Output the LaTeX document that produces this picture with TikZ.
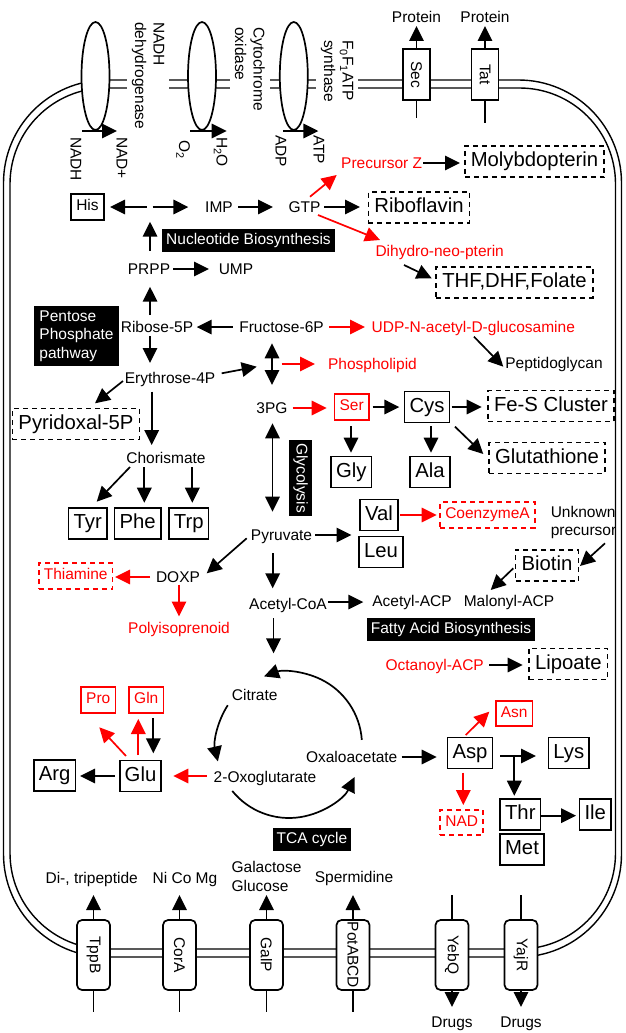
\documentclass[tikz,border=0pt]{standalone}
\usepackage{fontspec}
\setmainfont{Liberation Sans}
\usetikzlibrary{arrows.meta,shapes.geometric,calc}
\newcommand\ftsmall{\fontsize{15.5}{18.5}\selectfont}
\newcommand\ftbig{\fontsize{20.3}{24}\selectfont}
\begin{document}
\begin{tikzpicture}[x=1pt,y=-1pt,
  lbl/.style={font=\ftsmall, inner sep=0pt, text height=11pt, text depth=0pt},
  rlbl/.style={lbl, text=red},
  bx/.style={draw, line width=1.7pt, font=\ftbig, inner xsep=5pt, inner ysep=0pt, minimum height=31pt, text height=14.5pt, text depth=4.2pt},
  dbx/.style={bx, dash pattern=on 5pt off 4pt, inner xsep=6pt},
  sbx/.style={draw, line width=1.7pt, font=\ftsmall, inner xsep=5pt, inner ysep=0pt, minimum height=25.5pt, text height=11pt, text depth=3.2pt},
  rsbx/.style={sbx, draw=red, text=red},
  rdbx/.style={sbx, draw=red, text=red, dash pattern=on 5pt off 4pt},
  blkbase/.style={fill=black, text=white, font=\ftsmall},
  blk/.style={blkbase, inner xsep=4pt, inner ysep=0pt, minimum height=23pt, text height=11pt, text depth=3.2pt},
  arr/.style={line width=1.7pt, -{Triangle[length=15pt,width=14.5pt]}},
  rarr/.style={arr, red},
  darr/.style={line width=1.7pt, {Triangle[length=15pt,width=14.5pt]}-{Triangle[length=15pt,width=14.5pt]}},
  pln/.style={line width=1.7pt},
  mem/.style={line width=1.4pt},
  ell/.style={ellipse, draw, fill=white, line width=1.7pt, minimum width=28pt, minimum height=108pt, inner sep=0pt},
  secbox/.style={draw, fill=white, line width=1.7pt, rotate=-90, font=\ftsmall, minimum width=51pt, minimum height=27pt, inner sep=0pt},
  tp/.style={draw, fill=white, line width=1.7pt, rotate=-90, font=\ftsmall, rounded corners=5pt, minimum width=70pt, minimum height=33pt, inner sep=0pt},
  mlbl/.style={font=\ftsmall, rotate=-90, anchor=west, align=left, fill=white, inner sep=5pt}
]
\useasboundingbox (0,0) rectangle (625,1033);
% membrane
\draw[mem, rounded corners=103pt] (3.5,80) rectangle (621.5,957);
\draw[mem, rounded corners=96pt] (10,88) rectangle (615.5,949);
% top membrane proteins
\node[ell] (ell1) at (95.5,76) {};
\node[ell] (ell2) at (202,76) {};
\node[ell] (ell3) at (293.8,76) {};
\node[mlbl] (lnadh) at (148,17) {NADH\\dehydrogenase};
\node[mlbl] (lcyt) at (250,22) {Cytochrome\\oxidase};
\node[mlbl] (latp) at (337,35) {F\textsubscript{0}F\textsubscript{1}ATP\\synthase};
\node[lbl, rotate=-90, anchor=west] (nadh) at (76,137) {NADH};
\node[lbl, rotate=-90, anchor=west] (nadp) at (122,137) {NAD+};
\node[lbl, rotate=-90, anchor=west] (o2) at (184.5,140) {O\textsubscript{2}};
\node[lbl, rotate=-90, anchor=west] (h2o) at (222,137) {H\textsubscript{2}O};
\node[lbl, rotate=-90, anchor=west] (adp) at (281,135) {ADP};
\node[lbl, rotate=-90, anchor=west] (atp) at (319,135) {ATP};
\draw[arr] ($(ell1)+(-13.5,55)$) -- ($(ell1)+(21.5,55)$);
\draw[arr] ($(ell2)+(-12,55)$) -- ($(ell2)+(24.7,55)$);
\draw[arr] ($(ell3)+(-10.5,55)$) -- ($(ell3)+(24.5,55)$);
\node[secbox] (sec) at (416.5,74.5) {Sec};
\node[secbox] (tat) at (485,74.5) {Tat};
\node[lbl] (prot1) at (416.5,17) {Protein};
\node[lbl] (prot2) at (485,17) {Protein};
\draw[arr] (sec.west) -- ($(prot1)+(0,9)$);
\draw[pln] (sec.east) -- ($(sec)+(0,43.2)$);
\draw[arr] (tat.west) -- ($(prot2)+(0,9)$);
\draw[pln] (tat.east) -- ($(tat)+(0,48.8)$);
% bottom transporters
\node[tp] (tppb) at (93.5,955) {TppB};
\node[tp] (cora) at (179.5,955) {CorA};
\node[tp] (galp) at (266.5,955) {GalP};
\node[tp] (pot) at (353,955) {PotABCD};
\node[tp] (yebq) at (452,955) {YebQ};
\node[tp] (yajr) at (521,955) {YajR};
\node[lbl] (dipep) at (91.7,878) {Di-, tripeptide};
\node[lbl] (nicomg) at (185,878) {Ni Co Mg};
\node[font=\ftsmall, inner sep=0pt, align=left] (galglu) at (266.5,876.5) {Galactose\\Glucose};
\node[lbl] (spermid) at (354,877) {Spermidine};
\node[lbl] (drugs1) at (452,1022) {Drugs};
\node[lbl] (drugs2) at (521,1022) {Drugs};
\foreach \t in {tppb,cora,galp,pot}{
  \draw[arr] (\t.west) -- ($(\t)+(0,-60)$);
  \draw[pln] (\t.east) -- ($(\t)+(0,57)$);
}
\foreach \t in {yebq,yajr}{
  \draw[pln] ($(\t)+(0,-60)$) -- (\t.west);
  \draw[arr] (\t.east) -- ($(\t)+(0,52)$);
}
% nodes inside
\node[sbx] (his) at (87.5,207) {His};
\coordinate (jn) at (150,207);
\node[lbl] (imp) at (219,207) {IMP};
\node[lbl] (gtp) at (304.5,207) {GTP};
\node[dbx] (ribo) at (419,207.5) {Riboflavin};
\node[rlbl] (precz) at (381.7,163) {Precursor Z};
\node[dbx] (molyb) at (534.5,161.5) {Molybdopterin};
\node[rlbl] (dihydro) at (439.7,251) {Dihydro-neo-pterin};
\node[dbx] (thf) at (514.5,282.5) {THF,DHF,Folate};
\node[blk] (nucbio) at (248.5,240.5) {Nucleotide Biosynthesis};
\node[lbl] (prpp) at (149,269) {PRPP};
\node[lbl] (ump) at (236,269) {UMP};
\node[lbl] (ribose) at (157,327) {Ribose-5P};
\node[lbl] (fructose) at (281.5,327) {Fructose-6P};
\node[rlbl] (udp) at (473.3,327) {UDP-N-acetyl-D-glucosamine};
\node[lbl] (peptido) at (554,363) {Peptidoglycan};
\node[blkbase, align=left, inner sep=4pt, minimum width=85pt, minimum height=60pt] (ppp) at (76.5,336) {Pentose\\Phosphate\\pathway};
\node[lbl] (erythrose) at (170,378) {Erythrose-4P};
\node[dbx] (pyridox) at (76,424) {Pyridoxal-5P};
\node[lbl] (chorismate) at (166,458) {Chorismate};
\node[bx] (tyr) at (87.7,523.5) {Tyr};
\node[bx] (phe) at (137.7,523.5) {Phe};
\node[bx] (trp) at (188.7,523.5) {Trp};
\node[rlbl] (phospho) at (372.5,363.5) {Phospholipid};
\node[lbl] (g3pg) at (272,408) {3PG};
\node[rsbx] (ser) at (351.7,407) {Ser};
\node[bx] (cys) at (427,407) {Cys};
\node[dbx] (fes) at (551,406) {Fe-S Cluster};
\node[bx] (gly) at (351.3,472) {Gly};
\node[bx] (ala) at (430,472) {Ala};
\node[dbx] (gluta) at (547,458) {Glutathione};
\node[blk, rotate=-90, inner xsep=3pt] (glyco) at (300.5,478) {Glycolysis};
\node[lbl] (pyruvate) at (281.5,535) {Pyruvate};
\node[bx] (val) at (379,515) {Val};
\node[bx] (leu) at (381,552) {Leu};
\node[rdbx] (coa) at (487.5,515) {CoenzymeA};
\node[font=\ftsmall, inner sep=0pt, align=left] (unknown) at (583.5,522.4) {Unknown\\precursor};
\node[dbx] (biotin) at (547,565.5) {Biotin};
\node[lbl] (malonyl) at (509,601) {Malonyl-ACP};
\node[lbl] (acetylacp) at (412,601) {Acetyl-ACP};
\node[lbl] (acetylcoa) at (288,604) {Acetyl-CoA};
\node[lbl] (doxp) at (178,577) {DOXP};
\node[rdbx] (thiamine) at (75.7,576) {Thiamine};
\node[rlbl] (polyiso) at (179,628) {Polyisoprenoid};
\node[blk] (fab) at (451,629.5) {Fatty Acid Biosynthesis};
\node[rlbl] (octanoyl) at (434.7,665) {Octanoyl-ACP};
\node[dbx] (lipoate) at (568.3,664) {Lipoate};
\coordinate (tcac) at (289,745);
\node[lbl] (citrate) at (254.7,695) {Citrate};
\node[lbl] (oxo) at (265,777) {2-Oxoglutarate};
\node[lbl] (oxa) at (351.7,757) {Oxaloacetate};
\node[bx] (glu) at (140.5,776) {Glu};
\node[bx] (arg) at (54.7,775.5) {Arg};
\node[rsbx] (pro) at (98.3,700) {Pro};
\node[rsbx] (gln) at (146.3,700) {Gln};
\node[blk] (tca) at (312,839.5) {TCA cycle};
\node[bx] (asp) at (470,753) {Asp};
\node[bx] (lys) at (568.8,753) {Lys};
\node[bx] (thr) at (520.3,814.5) {Thr};
\node[bx] (ile) at (595.3,814.5) {Ile};
\node[bx] (met) at (522,849.5) {Met};
\node[rsbx] (asn) at (514.2,713.5) {Asn};
\node[rdbx] (nad) at (461.7,822.5) {NAD};
% connectors
\draw[arr] ($(prpp)+(1,-18.3)$) -- ($(jn)+(0,14.7)$);
\draw[arr] ($(jn)+(-3.3,0)$) -- ($(his)+(22.5,0)$);
\draw[arr] ($(jn)+(2.7,0)$) -- ($(imp)+(-30.7,0)$);
\draw[arr] ($(imp)+(19,0)$) -- ($(gtp)+(-31.5,0)$);
\draw[arr] ($(gtp)+(19.5,0)$) -- ($(ribo)+(-59,-0.5)$);
\draw[rarr] ($(gtp)+(5.5,-10.3)$) -- ($(precz)+(-45,12)$);
\draw[arr] ($(precz)+(41.3,0)$) -- ($(molyb)+(-74.5,1.5)$);
\draw[rarr] ($(gtp)+(13.5,8)$) -- ($(dihydro)+(-59.7,-11)$);
\draw[arr] ($(dihydro)+(-35.7,14)$) -- ($(thf)+(-82.8,-4.2)$);
\draw[arr] ($(prpp)+(24,0)$) -- ($(ump)+(-27,0)$);
\draw[arr] ($(ribose)+(-7,-12)$) -- ($(prpp)+(1,17.7)$);
\draw[arr] ($(fructose)+(-48.8,0)$) -- ($(ribose)+(39.7,0)$);
\draw[rarr] ($(fructose)+(47.5,0)$) -- ($(udp)+(-108.3,0)$);
\draw[arr] ($(udp)+(0.7,9.7)$) -- ($(peptido)+(-50.7,3.7)$);
\draw[arr] ($(ribose)+(-7,9)$) -- ($(erythrose)+(-20,-15)$);
\draw[arr] ($(erythrose)+(-47,3)$) -- ($(pyridox)+(19,-20.7)$);
\draw[arr] ($(erythrose)+(-18.3,13.7)$) -- ($(chorismate)+(-14.3,-13)$);
\draw[arr] ($(chorismate)+(-36,9)$) -- ($(tyr)+(9,-21.8)$);
\draw[arr] ($(chorismate)+(-21.7,9)$) -- ($(phe)+(6.6,-20.8)$);
\draw[arr] ($(chorismate)+(26.3,9)$) -- ($(trp)+(3.6,-20.8)$);
\draw[arr] ($(erythrose)+(51.7,-4.7)$) -- ($(g3pg)+(-15.3,-41.3)$);
\draw[darr] ($(fructose)+(-9.5,16.3)$) -- ($(g3pg)+(0,-23)$);
\draw[rarr] ($(g3pg)+(9.7,-44)$) -- ($(phospho)+(-57.5,0.5)$);
\draw[rarr] ($(g3pg)+(20.7,0)$) -- ($(ser)+(-25,1)$);
\draw[arr] ($(ser)+(21,0)$) -- ($(cys)+(-27.7,0)$);
\draw[arr] ($(cys)+(24.7,0)$) -- ($(fes)+(-69.3,1)$);
\draw[arr] ($(ser)+(-0.7,19)$) -- ($(gly)+(-0.3,-19.3)$);
\draw[arr] ($(cys)+(4,19)$) -- ($(ala)+(1,-19.3)$);
\draw[arr] ($(cys)+(28,19.7)$) -- ($(gluta)+(-63.7,-4)$);
\draw[darr] ($(g3pg)+(0.5,15.3)$) -- ($(pyruvate)+(-9,-23.3)$);
\draw[arr] ($(pyruvate)+(33.5,0)$) -- ($(val)+(-27.5,20)$);
\draw[rarr] ($(val)+(21,0)$) -- ($(coa)+(-50.8,0)$);
\draw[arr] ($(unknown)+(21.5,20.9)$) -- ($(biotin)+(33,0.5)$);
\draw[arr] ($(biotin)+(-33.7,2.8)$) -- ($(malonyl)+(-18.3,-11)$);
\draw[arr] ($(acetylcoa)+(40.3,-2)$) -- ($(acetylacp)+(-48.7,1)$);
\draw[arr] ($(pyruvate)+(-8.8,18.3)$) -- ($(acetylcoa)+(-15.3,-15.7)$);
\draw[arr] ($(pyruvate)+(-34.8,3.3)$) -- ($(doxp)+(28.7,-3.7)$);
\draw[rarr] ($(doxp)+(-28,0)$) -- ($(thiamine)+(39.3,1)$);
\draw[rarr] ($(doxp)+(1,7.5)$) -- ($(polyiso)+(0,-11.5)$);
\draw[arr] ($(acetylcoa)+(-14.5,14)$) -- ($(citrate)+(18.8,-41.7)$);
\draw[arr] ($(tcac)+(-4:73)$) arc[start angle=-4, end angle=-110, radius=73];
\draw[arr] ($(tcac)+(-147:73)$) arc[start angle=-147, end angle=-193, radius=73];
\draw[arr] ($(tcac)+(-219:73)$) arc[start angle=-219, end angle=-334, radius=73];
\draw[rarr] ($(oxo)+(-58.3,-1)$) -- ($(glu)+(32.8,0)$);
\draw[arr] ($(glu)+(-25.5,0)$) -- ($(arg)+(25.3,0.5)$);
\draw[rarr] ($(glu)+(-14.5,-20)$) -- ($(pro)+(1,27.3)$);
\draw[rarr] ($(glu)+(-2.2,-21)$) -- ($(gln)+(-8,19)$);
\draw[arr] ($(gln)+(7,18.3)$) -- ($(glu)+(12.8,-22.7)$);
\draw[arr] ($(oxa)+(50,0)$) -- ($(asp)+(-33.3,4)$);
\draw[arr] ($(asp)+(30,3)$) -- ($(lys)+(-32.8,3)$);
\draw[arr] ($(asp)+(44.3,3)$) -- ($(thr)+(-6,-18.8)$);
\draw[arr] ($(thr)+(20.4,1.2)$) -- ($(ile)+(-19.3,1.2)$);
\draw[rarr] ($(asp)+(-4.3,-18)$) -- ($(asn)+(-24.9,-1.8)$);
\draw[rarr] ($(asp)+(-6.7,19.7)$) -- ($(nad)+(1.6,-17.5)$);
\draw[arr] ($(octanoyl)+(54.6,0)$) -- ($(lipoate)+(-45.6,1)$);
\end{tikzpicture}
\end{document}
